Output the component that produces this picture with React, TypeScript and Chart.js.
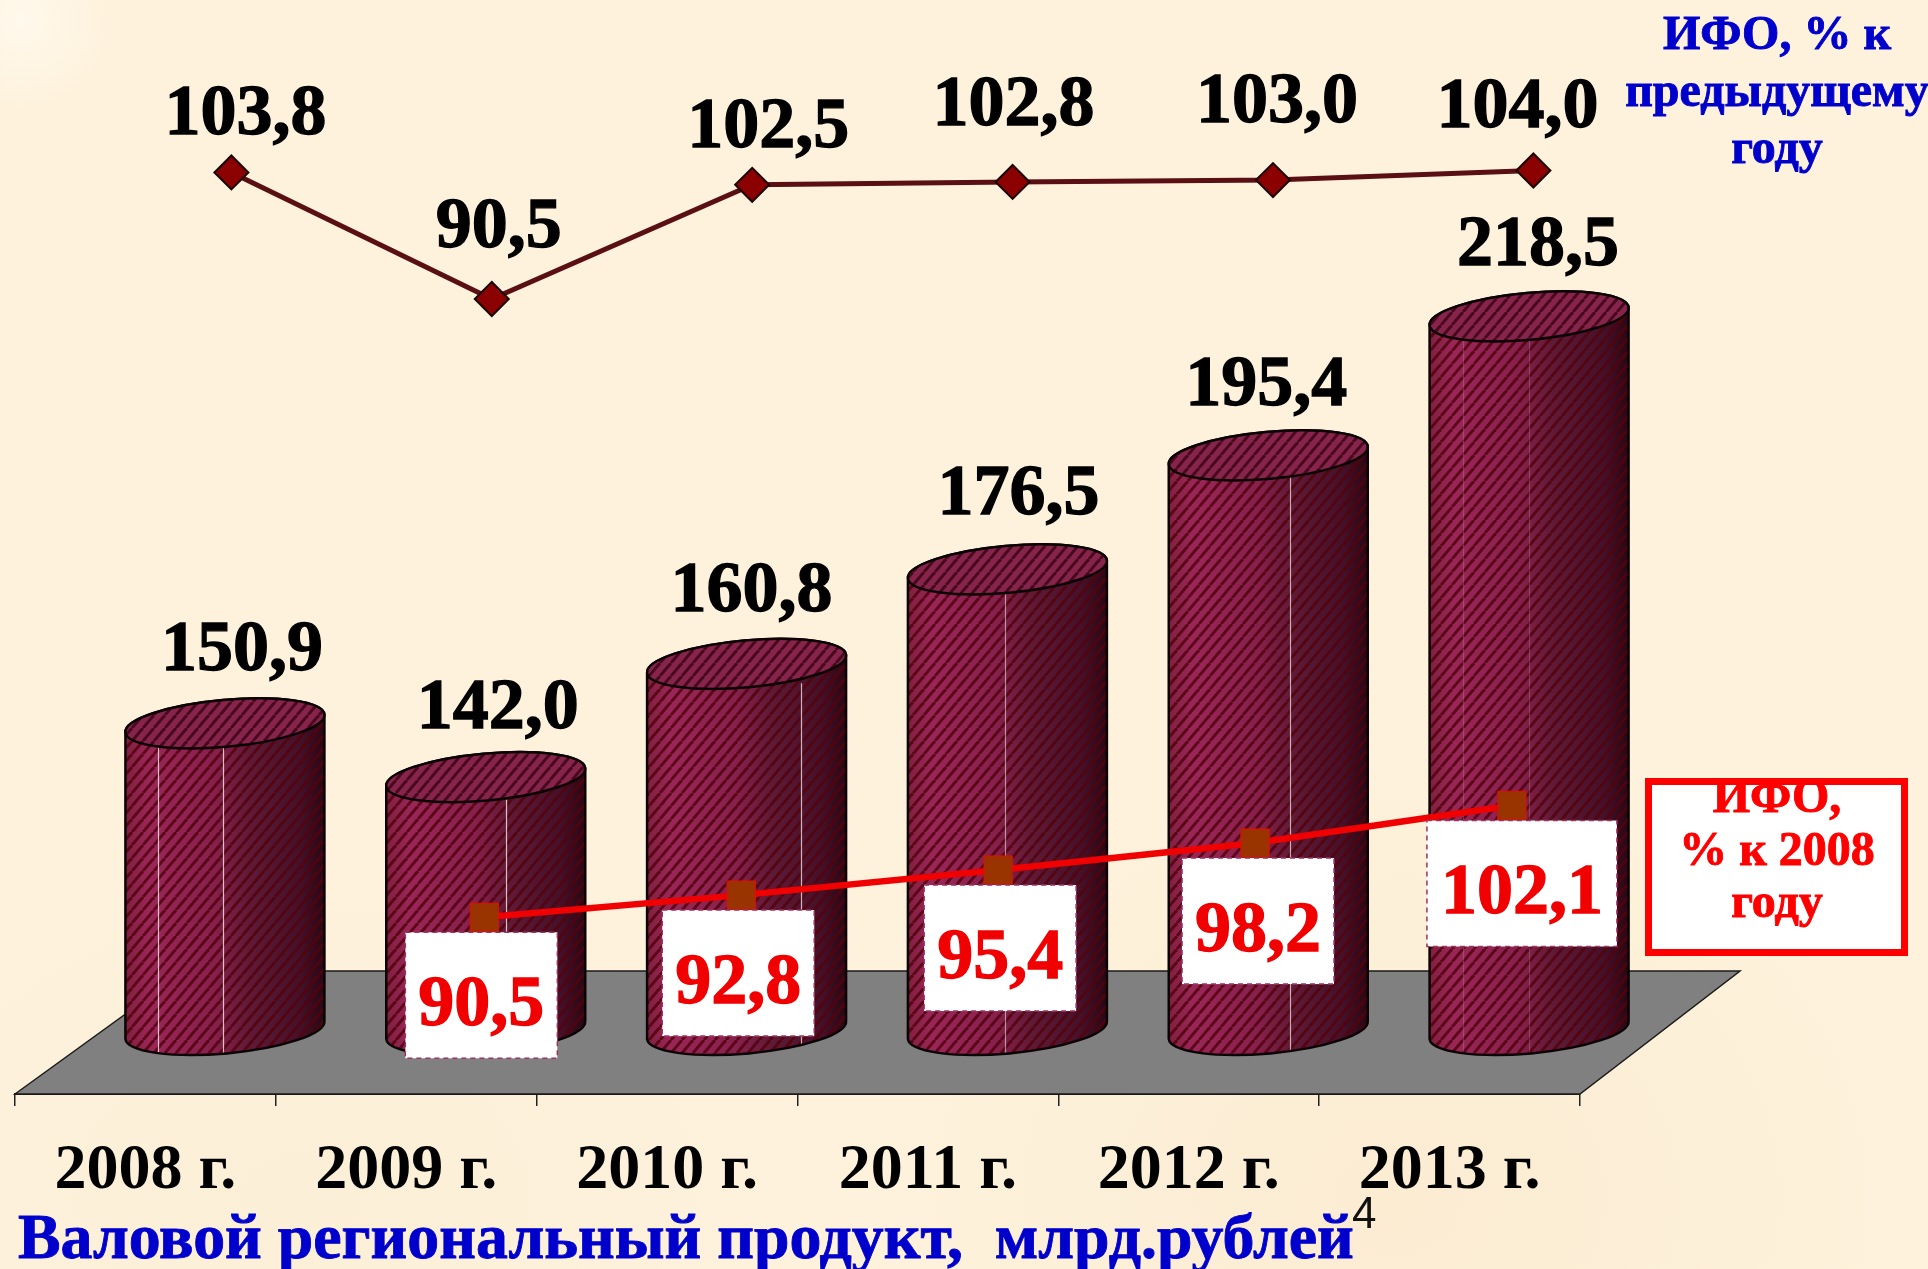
import React, { useEffect, useRef } from "react";
import { Chart, registerables } from "chart.js";

Chart.register(...registerables);

const years = ["2008 г.", "2009 г.", "2010 г.", "2011 г.", "2012 г.", "2013 г."];
const grp = [150.9, 142.0, 160.8, 176.5, 195.4, 218.5];
const ifoPrev = [103.8, 90.5, 102.5, 102.8, 103.0, 104.0];
const ifo2008 = [null, 90.5, 92.8, 95.4, 98.2, 102.1];

const titleText = "Валовой региональный продукт,  млрд.рублей";
const prevLegend = ["ИФО, % к", "предыдущему", "году"];
const baseLegend = ["ИФО,", "% к 2008", "году"];

const serif = "'Liberation Serif', 'Times New Roman', serif";
const fmt = (v: number) => v.toFixed(1).replace(".", ",");

const grpShift = [[17, -72], [12, -68], [5, -71], [11, -74], [-2, -69], [9, -70]];
const prevShift = [[14, -57], [7, -71], [16, -56], [1, -76], [4, -77], [-16, -62]];
const boxShift = [0, -3, -3, 2, 3, 10];
const seams = [[0.167, 0.488], [0.6], [0.77], [0.49], [0.61], [0.17, 0.5]];
const seamAlpha = [0.85, 0.85, 0.8, 0.6, 0.75, 0.18];

function hatch(ctx: CanvasRenderingContext2D, color: string) {
  const w = 11;
  const h = 13;
  const c = document.createElement("canvas");
  c.width = w;
  c.height = h;
  const g = c.getContext("2d")!;
  g.strokeStyle = color;
  g.lineWidth = 3;
  for (const o of [-w, 0, w]) {
    g.beginPath();
    g.moveTo(o, h);
    g.lineTo(o + w, 0);
    g.stroke();
  }
  return ctx.createPattern(c, "repeat")!;
}

const TILT = -0.09;
const DX = 79.5;
const DY = -64;

function boldText(ctx: CanvasRenderingContext2D, t: string, x: number, y: number, extra = 0.9) {
  ctx.fillText(t, x, y);
  ctx.strokeStyle = ctx.fillStyle as string;
  ctx.lineWidth = extra;
  ctx.strokeText(t, x, y);
}

const scenePlugin = {
  id: "scene",
  beforeDatasetsDraw(chart: any) {
    const { ctx, chartArea: a } = chart;
    ctx.save();
    ctx.beginPath();
    ctx.moveTo(a.left, a.bottom);
    ctx.lineTo(a.left + 170, a.bottom - 123);
    ctx.lineTo(a.right + 160, a.bottom - 123);
    ctx.lineTo(a.right, a.bottom);
    ctx.closePath();
    ctx.fillStyle = "#808080";
    ctx.fill();
    ctx.strokeStyle = "#1a1a1a";
    ctx.lineWidth = 1.5;
    ctx.stroke();
    ctx.restore();
  },
  afterDatasetDraw(chart: any, args: any) {
    if (args.index !== 0) return;
    const ctx: CanvasRenderingContext2D = chart.ctx;
    const bodyHatch = hatch(ctx, "rgba(84,2,14,0.85)");
    const topHatch = hatch(ctx, "rgba(62,4,20,0.85)");
    args.meta.data.forEach((bar: any, i: number) => {
      const cx = bar.x + DX;
      const ty = bar.y + DY;
      const by = bar.base + DY;
      const rx = bar.width / 2;
      const ry = rx * 0.235;
      const body = () => {
        ctx.beginPath();
        ctx.ellipse(cx, by, rx, ry, TILT, 0, Math.PI);
        ctx.ellipse(cx, ty, rx, ry, TILT, Math.PI, Math.PI * 2);
        ctx.closePath();
      };
      ctx.save();
      const g = ctx.createLinearGradient(cx - rx, 0, cx + rx, 0);
      g.addColorStop(0, "#80203f");
      g.addColorStop(0.12, "#9a2658");
      g.addColorStop(0.45, "#87204c");
      g.addColorStop(0.62, "#601a36");
      g.addColorStop(0.88, "#441028");
      g.addColorStop(1, "#280712");
      body();
      ctx.fillStyle = g;
      ctx.fill();
      ctx.fillStyle = bodyHatch;
      ctx.fill();
      ctx.save();
      body();
      ctx.clip();
      ctx.lineWidth = 1.2;
      ctx.strokeStyle = `rgba(235,225,225,${seamAlpha[i]})`;
      seams[i].forEach((f) => {
        const sx = Math.round(cx - rx + f * 2 * rx) + 0.5;
        ctx.beginPath();
        ctx.moveTo(sx, ty + ry - 4);
        ctx.lineTo(sx, by + ry + 4);
        ctx.stroke();
      });
      ctx.restore();
      body();
      ctx.strokeStyle = "#0a0204";
      ctx.lineWidth = 2.5;
      ctx.stroke();
      ctx.beginPath();
      ctx.ellipse(cx, ty, rx, ry, TILT, 0, Math.PI * 2);
      ctx.fillStyle = "#87244c";
      ctx.fill();
      ctx.fillStyle = topHatch;
      ctx.fill();
      ctx.strokeStyle = "#0a0204";
      ctx.lineWidth = 2.5;
      ctx.stroke();
      ctx.restore();
    });
  },
  afterDatasetsDraw(chart: any) {
    const ctx: CanvasRenderingContext2D = chart.ctx;
    ctx.save();
    ctx.textAlign = "center";
    ctx.textBaseline = "middle";
    ctx.font = `bold 72px ${serif}`;
    ctx.fillStyle = "#000000";
    chart.getDatasetMeta(0).data.forEach((bar: any, i: number) => {
      boldText(ctx, fmt(grp[i]), bar.x + DX + grpShift[i][0], bar.y + DY + grpShift[i][1], 1.3);
    });
    chart.getDatasetMeta(1).data.forEach((p: any, i: number) => {
      boldText(ctx, fmt(ifoPrev[i]), p.x + prevShift[i][0], p.y + prevShift[i][1], 1.3);
    });
    const values = ifo2008.filter((v) => v !== null) as number[];
    chart.getDatasetMeta(2).data.forEach((p: any, k: number) => {
      const wide = values[k] >= 100;
      const w = wide ? 190 : 152;
      const h = 126;
      const cx = p.x + boxShift[k + 1];
      const top = p.y + 15;
      ctx.fillStyle = "#ffffff";
      ctx.fillRect(cx - w / 2, top, w, h);
      ctx.setLineDash([5, 4]);
      ctx.lineWidth = 1.5;
      ctx.strokeStyle = "#a03060";
      ctx.strokeRect(cx - w / 2, top, w, h);
      ctx.setLineDash([]);
      ctx.fillStyle = "#f00000";
      boldText(ctx, fmt(values[k]), cx, top + 74, 1.3);
    });

    ctx.font = `bold 48px ${serif}`;
    ctx.fillStyle = "#0000cc";
    ctx.textBaseline = "alphabetic";
    prevLegend.forEach((t, i) => boldText(ctx, t, 1777, 49 + i * 57));

    ctx.fillStyle = "#ffffff";
    ctx.fillRect(1645, 778, 263, 178);
    ctx.strokeStyle = "#ff0000";
    ctx.lineWidth = 7;
    ctx.strokeRect(1648.5, 781.5, 256, 171);
    ctx.fillStyle = "#ff0000";
    baseLegend.forEach((t, i) => boldText(ctx, t, 1777, 812 + i * 52.5));

    ctx.textAlign = "left";
    ctx.font = `bold 63.8px ${serif}`;
    ctx.fillStyle = "#0000cc";
    boldText(ctx, titleText, 18, 1258);
    ctx.font = "44px 'Liberation Sans', Arial, sans-serif";
    ctx.fillStyle = "#111111";
    ctx.fillText("4", 1352, 1228);
    ctx.restore();
  },
};

export default function App() {
  const ref = useRef<HTMLCanvasElement>(null);
  useEffect(() => {
    const chart = new Chart(ref.current!, {
      type: "bar",
      data: {
        labels: years,
        datasets: [
          {
            label: "Валовой региональный продукт, млрд.рублей",
            data: grp,
            backgroundColor: "transparent",
            borderWidth: 0,
            barPercentage: 0.766,
            categoryPercentage: 1,
            grouped: false,
            base: 100,
            order: 3,
          },
          {
            type: "line",
            label: "ИФО, % к предыдущему году",
            data: ifoPrev.map((y, x) => ({ x, y })),
            xAxisID: "xPrev",
            yAxisID: "yPrev",
            borderColor: "#5a0f12",
            borderWidth: 5,
            pointStyle: "rectRot",
            pointRadius: 17,
            pointBackgroundColor: "#8b0000",
            pointBorderColor: "#1a0505",
            pointBorderWidth: 2,
            tension: 0,
            order: 1,
          },
          {
            type: "line",
            label: "ИФО, % к 2008 году",
            data: ifo2008
              .map((y, x) => ({ x, y }))
              .filter((p) => p.y !== null),
            xAxisID: "xBase",
            yAxisID: "yBase",
            borderColor: "#f00000",
            borderWidth: 6.5,
            pointStyle: "rect",
            pointRadius: 20,
            pointBackgroundColor: "#993300",
            pointBorderColor: "#e01000",
            pointBorderWidth: 1,
            tension: 0,
            order: 0,
          },
        ] as any,
      },
      options: {
        responsive: false,
        animation: false,
        devicePixelRatio: 1,
        events: [],
        layout: { autoPadding: false, padding: { left: 15, right: 348, top: 10, bottom: 0 } },
        plugins: { legend: { display: false }, tooltip: { enabled: false }, title: { display: false } },
        scales: {
          x: {
            type: "category",
            offset: true,
            afterFit(s: any) {
              s.height = 175;
            },
            border: { display: true, color: "#1a1a1a", width: 2 },
            grid: { display: true, offset: true, drawOnChartArea: false, drawTicks: true, tickLength: 12, color: "#222", lineWidth: 1.5 },
            ticks: { color: "#000", padding: 27, maxRotation: 0, autoSkip: false, font: { family: serif, size: 64, weight: "bold" } },
          },
          y: { type: "linear", display: false, min: 100, max: 280 },
          xPrev: { type: "linear", axis: "x", display: false, offset: false, min: -0.831, max: 5.179 },
          yPrev: { type: "linear", display: false, min: 6.95, max: 120.87 },
          xBase: { type: "linear", axis: "x", display: false, offset: false, min: -0.827, max: 5.265 },
          yBase: { type: "linear", display: false, min: 72.16, max: 184.66 },
        } as any,
      },
      plugins: [scenePlugin],
    });
    return () => chart.destroy();
  }, []);
  return (
    <div
      style={{
        position: "absolute",
        left: 0,
        top: 0,
        width: 1928,
        height: 1269,
        overflow: "hidden",
        background:
          "radial-gradient(circle at 20px 20px, #fff8ec 0, rgba(255,248,236,0) 90px), radial-gradient(ellipse at 1400px 1200px, #fbecd2 0, rgba(251,236,210,0) 520px), radial-gradient(ellipse at 300px 1200px, #fcefd8 0, rgba(252,239,216,0) 500px), #fef2dc",
      }}
    >
      <canvas ref={ref} width={1928} height={1269} style={{ display: "block" }} />
    </div>
  );
}
